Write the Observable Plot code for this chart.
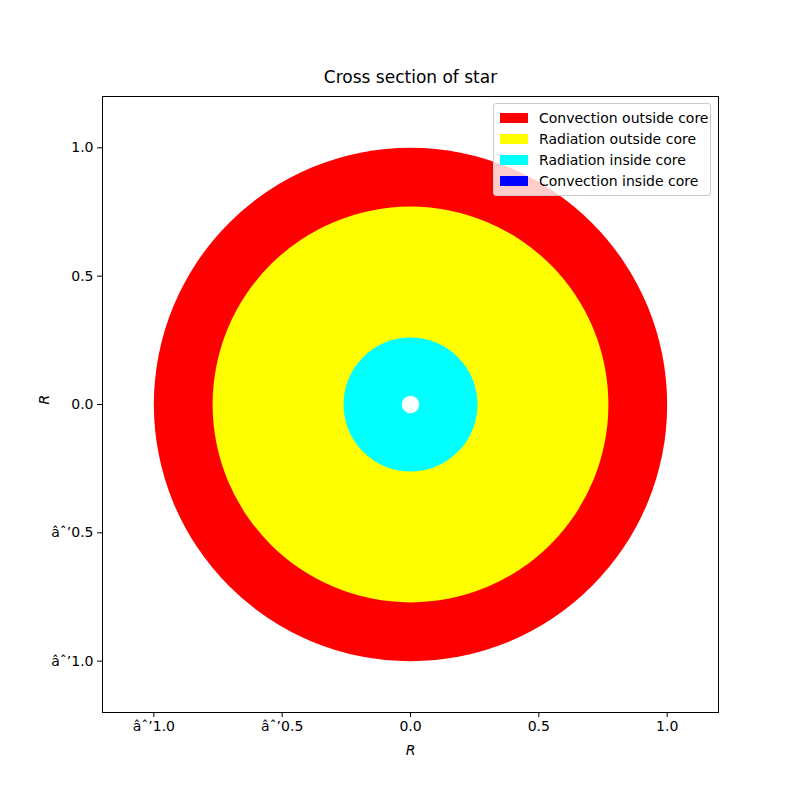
<!DOCTYPE html>
<html><head>
<script src="https://cdn.jsdelivr.net/npm/d3@7"></script>
<script src="https://cdn.jsdelivr.net/npm/@observablehq/plot@0.6"></script>
<style>
body{margin:0;background:#fff;font-family:"DejaVu Sans",sans-serif}
#wrap{position:relative;width:800px;height:800px}
#legend{position:absolute;left:493px;top:103px;width:216px;border:1px solid #ccc;border-radius:3px;background:rgba(255,255,255,0.8);font-size:14px;padding:3px 0 4px 0}
#legend div{display:flex;align-items:center;height:21px;padding-left:6px}
#legend span{display:inline-block;width:28px;height:10px;margin-right:11px}
</style>
</head><body>
<div id="wrap"><div id="chart"></div><div id="legend"></div></div>
<script>
// layers drawn outermost first
const layers = ["Convection outside core", "Radiation outside core", "Radiation inside core", "Centre"]
const radii = [1.0, 0.771, 0.261, 0.034]
const colors = ["#ff0000", "#ffff00", "#00ffff", "#ffffff"]
const legendNames = ["Convection outside core", "Radiation outside core", "Radiation inside core", "Convection inside core"]
const legendColors = ["#ff0000", "#ffff00", "#00ffff", "#0000ff"]
const ticks = [-1.0, -0.5, 0.0, 0.5, 1.0]

const rows = layers.map((name, i) => ({name, r: radii[i], color: colors[i], x: 0, y: 0}))

const chart = Plot.plot({
  width: 800, height: 800,
  marginLeft: 102, marginRight: 82, marginTop: 96, marginBottom: 88,
  style: {fontFamily: "DejaVu Sans", fontSize: "14px", background: "#fff"},
  x: {domain: [-1.2, 1.2], ticks, tickFormat: d3.format(".1f"), label: null, tickSize: 5},
  y: {domain: [-1.2, 1.2], ticks, tickFormat: d3.format(".1f"), label: null, tickSize: 5},
  r: {type: "linear", domain: [0, 1.2], range: [0, 308]},
  marks: [
    Plot.dot(rows, {x: "x", y: "y", r: "r", fill: "color", stroke: null}),
    Plot.frame({stroke: "#000"}),
    Plot.axisX({ticks, tickFormat: d3.format(".1f"), tickSize: 5, tickPadding: 4, label: null, fontSize: 14}),
    Plot.axisY({ticks, tickFormat: d3.format(".1f"), tickSize: 5, tickPadding: 4, label: null, fontSize: 14}),
    Plot.text(["Cross section of star"], {frameAnchor: "top", dy: -14, fontSize: 17, lineAnchor: "bottom"}),
    Plot.text(["R"], {frameAnchor: "bottom", dy: 42, fontSize: 14, fontStyle: "italic"}),
    Plot.text(["R"], {frameAnchor: "left", dx: -58, rotate: -90, fontSize: 14, fontStyle: "italic"})
  ]
})
document.getElementById("chart").append(chart)

d3.select("#legend").selectAll("div").data(legendNames).join("div")
  .html((d, i) => `<span style="background:${legendColors[i]}"></span>${d}`)
</script>
</body></html>
